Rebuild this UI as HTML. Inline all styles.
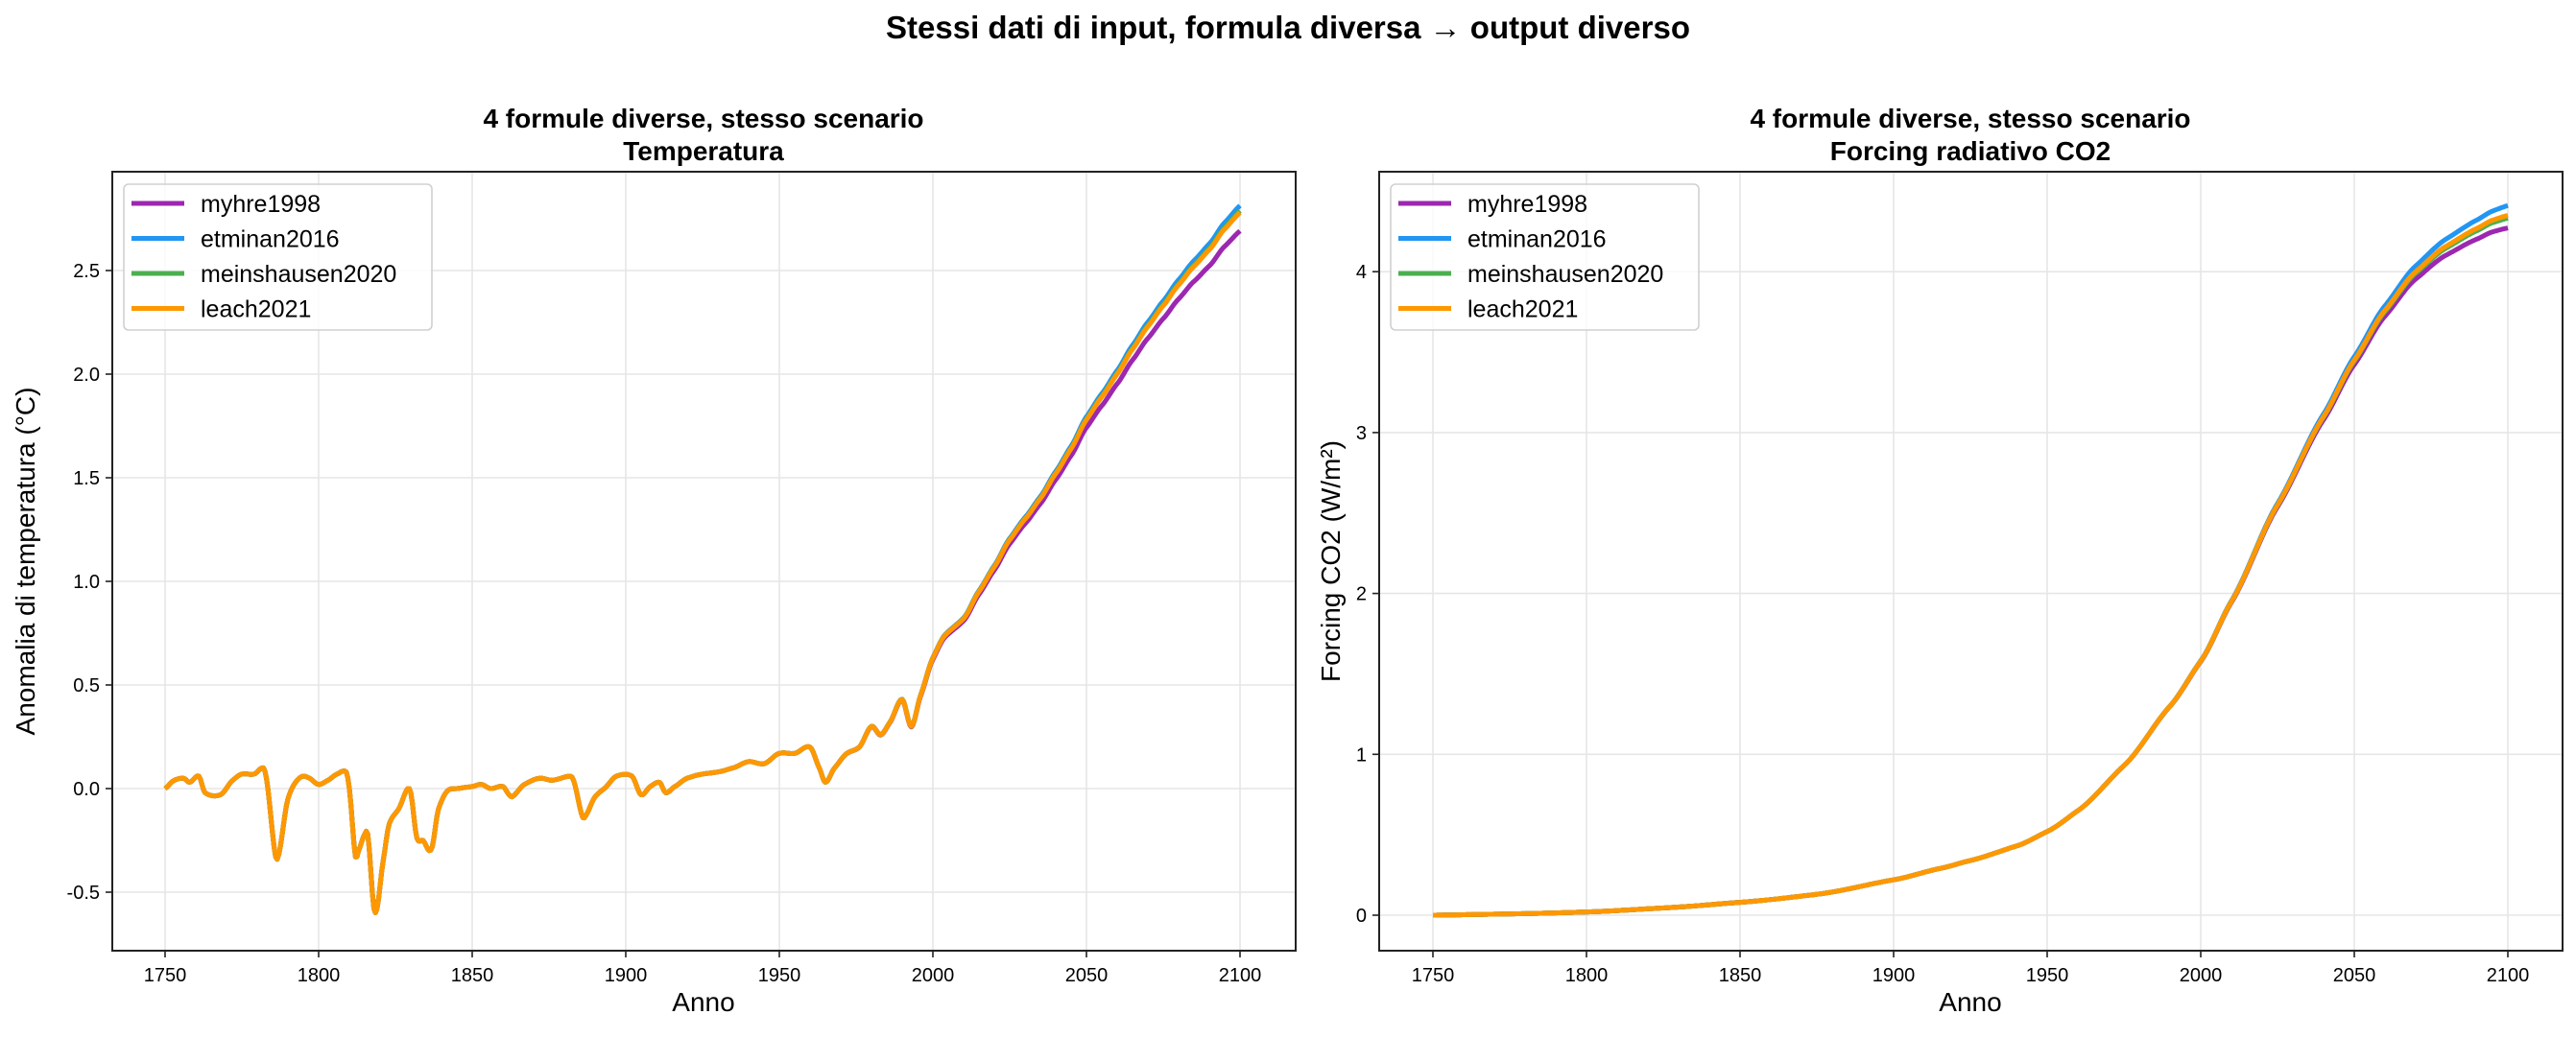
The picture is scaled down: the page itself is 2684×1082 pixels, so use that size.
<!DOCTYPE html>
<html><head><meta charset="utf-8"><style>
html,body{margin:0;padding:0;background:#fff;}
svg text{font-family:"Liberation Sans","DejaVu Sans",sans-serif;fill:#000;}
</style></head><body>
<svg id="s" width="2684" height="1077" xmlns="http://www.w3.org/2000/svg">
<rect width="2684" height="1077" fill="#fff"/>
<text x="1342" y="40" font-size="33" font-weight="bold" text-anchor="middle">Stessi dati di input, formula diversa → output diverso</text>
<text x="733" y="133" font-size="28" font-weight="bold" text-anchor="middle">4 formule diverse, stesso scenario</text>
<text x="733" y="167" font-size="28" font-weight="bold" text-anchor="middle">Temperatura</text>
<text x="2053" y="133" font-size="28" font-weight="bold" text-anchor="middle">4 formule diverse, stesso scenario</text>
<text x="2053" y="167" font-size="28" font-weight="bold" text-anchor="middle">Forcing radiativo CO2</text>
<text x="733" y="1054" font-size="28" text-anchor="middle">Anno</text>
<text x="2053" y="1054" font-size="28" text-anchor="middle">Anno</text>
<text transform="translate(36,585) rotate(-90)" font-size="28" text-anchor="middle">Anomalia di temperatura (°C)</text>
<text transform="translate(1396,585) rotate(-90)" font-size="28" text-anchor="middle">Forcing CO2 (W/m²)</text>
<g id="g"></g>
</svg>
<script>
const NS="http://www.w3.org/2000/svg",G=document.getElementById('g');
function el(t,a,txt){const e=document.createElementNS(NS,t);for(const k in a)e.setAttribute(k,a[k]);if(txt!==undefined)e.textContent=txt;G.appendChild(e);return e;}
const cols=['#9c27b0','#2196f3','#4caf50','#ff9800'],names=['myhre1998','etminan2016','meinshausen2020','leach2021'];
function interp(p,yr){const n=p.length;for(let i=0;i<n-1;i++){if(yr<=p[i+1][0]){const t=(yr-p[i][0])/(p[i+1][0]-p[i][0]);
 const h=p[i+1][0]-p[i][0];
 const m0=i>0?(p[i+1][1]-p[i-1][1])/(p[i+1][0]-p[i-1][0])*h:(p[i+1][1]-p[i][1]);
 const m1=i<n-2?(p[i+2][1]-p[i][1])/(p[i+2][0]-p[i][0])*h:(p[i+1][1]-p[i][1]);
 const t2=t*t,t3=t2*t;return (2*t3-3*t2+1)*p[i][1]+(t3-2*t2+t)*m0*0.8+(-2*t3+3*t2)*p[i+1][1]+(t3-t2)*m1*0.8;}}return p[n-1][1];}
function panel(L,R,T,B,x0,yz,ys,yt,pts,fac,ramp,fmt){
 for(let yr=1750;yr<=2100;yr+=50){const x=x0+(yr-1750)*3.2;el('line',{x1:x,x2:x,y1:T,y2:B,stroke:'#e6e6e6','stroke-width':1.6});el('line',{x1:x,x2:x,y1:B,y2:B+7,stroke:'#222','stroke-width':1.6});el('text',{x:x,y:B+32,'font-size':20,'text-anchor':'middle'},yr);}
 yt.forEach(v=>{const y=yz-v*ys;el('line',{x1:L,x2:R,y1:y,y2:y,stroke:'#e6e6e6','stroke-width':1.6});el('line',{x1:L-7,x2:L,y1:y,y2:y,stroke:'#222','stroke-width':1.6});el('text',{x:L-13,y:y+7,'font-size':20,'text-anchor':'end'},fmt(v));});
 for(let s=0;s<4;s++){let d='';for(let yr=1750;yr<=2100;yr+=0.5){const b=interp(pts,yr);const v=b*(1+fac[s]*ramp(yr,b));const x=x0+(yr-1750)*3.2,y=yz-v*ys;d+=(d?'L':'M')+x.toFixed(1)+','+y.toFixed(1);}
  el('path',{d:d,fill:'none',stroke:cols[s],'stroke-width':5,'stroke-linejoin':'round','stroke-linecap':'butt'});}
 el('rect',{x:L,y:T,width:R-L,height:B-T,fill:'none',stroke:'#222','stroke-width':2});
 const lx=L+12,ly=T+13;el('rect',{x:lx,y:ly,width:321,height:152,rx:5,fill:'#fff','fill-opacity':0.8,stroke:'#d0d0d0','stroke-width':1.6});
 for(let s=0;s<4;s++){const y=ly+20+s*36.5;el('line',{x1:lx+8,x2:lx+63,y1:y,y2:y,stroke:cols[s],'stroke-width':5});el('text',{x:lx+80,y:y+9,'font-size':25},names[s]);}
}
const tp=[[1750,0],[1753,0.04],[1756,0.05],[1758,0.03],[1761,0.06],[1763,-0.02],[1768,-0.03],[1772,0.04],[1775,0.07],[1779,0.07],[1782,0.1],[1783,0.05],[1786,-0.33],[1787,-0.32],[1790,-0.05],[1793,0.04],[1795,0.06],[1797,0.05],[1800,0.02],[1803,0.04],[1806,0.07],[1809,0.08],[1810,0.0],[1812,-0.33],[1813,-0.3],[1815,-0.22],[1816,-0.22],[1818,-0.58],[1819,-0.58],[1821,-0.35],[1823,-0.17],[1826,-0.1],[1829,0.0],[1830,-0.02],[1832,-0.24],[1834,-0.25],[1836,-0.3],[1837,-0.28],[1839,-0.1],[1842,-0.01],[1845,0],[1850,0.01],[1853,0.02],[1856,0.0],[1860,0.01],[1862,-0.03],[1863,-0.04],[1867,0.02],[1872,0.05],[1876,0.04],[1882,0.06],[1883,0.04],[1886,-0.14],[1887,-0.13],[1890,-0.04],[1893,0.0],[1897,0.06],[1902,0.06],[1905,-0.03],[1908,0.01],[1911,0.03],[1913,-0.02],[1916,0.01],[1920,0.05],[1925,0.07],[1930,0.08],[1935,0.1],[1940,0.13],[1945,0.12],[1950,0.17],[1955,0.17],[1960,0.2],[1963,0.1],[1965,0.03],[1968,0.1],[1972,0.17],[1976,0.2],[1980,0.3],[1983,0.26],[1986,0.32],[1990,0.43],[1993,0.3],[1996,0.45],[2000,0.63],[2004,0.74],[2010,0.82],[2015,0.95],[2020,1.07],[2025,1.2],[2030,1.3],[2035,1.4],[2040,1.52],[2045,1.64],[2050,1.78],[2055,1.89],[2060,2.0],[2065,2.12],[2070,2.23],[2075,2.33],[2080,2.43],[2085,2.52],[2090,2.6],[2095,2.7],[2100,2.78]];
const rampT=(yr,b)=>Math.min(1,Math.max(0,(yr-1950)/150));
panel(117,1350,179,991,172,822,216,[-0.5,0,0.5,1,1.5,2,2.5],tp,[-0.032,0.012,0.003,0],rampT,v=>v.toFixed(1));
const fp=[[1750,0],[1775,0.008],[1800,0.02],[1825,0.045],[1850,0.08],[1875,0.13],[1900,0.22],[1915,0.29],[1925,0.34],[1940,0.43],[1950,0.52],[1960,0.65],[1975,0.93],[1990,1.3],[2000,1.58],[2010,1.95],[2025,2.55],[2040,3.1],[2050,3.45],[2060,3.76],[2070,4.0],[2080,4.16],[2090,4.27],[2095,4.32],[2100,4.35]];
const rampF=(yr,b)=>Math.pow(Math.min(1,Math.max(0,(yr-1950)/150)),2);
panel(1437,2670,179,991,1493,954,167.7,[0,1,2,3,4],fp,[-0.018,0.014,-0.004,0],rampF,v=>String(v));
</script>
</body></html>
